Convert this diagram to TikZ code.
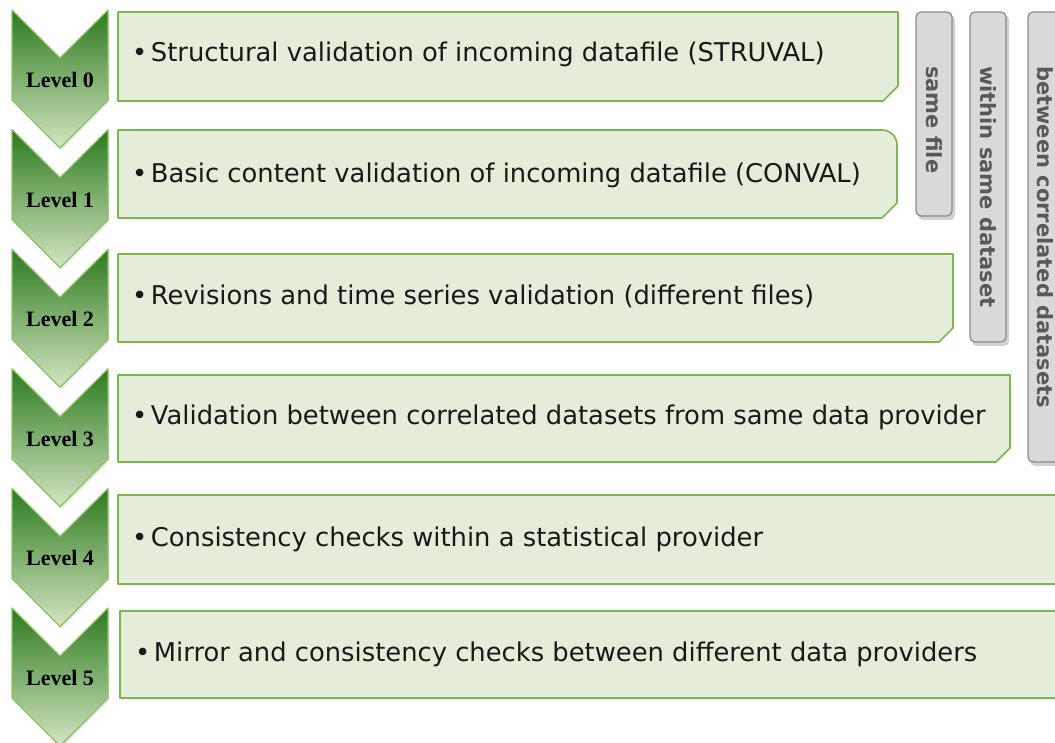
\documentclass[tikz,border=0pt]{standalone}
\usepackage{fontspec}
\setmainfont{DejaVu Sans}
\newfontfamily\lvlfont{Liberation Serif}
\definecolor{boxfill}{HTML}{E4EDD9}
\definecolor{boxline}{HTML}{7DB553}
\definecolor{chevtop}{HTML}{2C7A1E}
\definecolor{chevbot}{HTML}{D4E6C3}
\definecolor{chevline}{HTML}{8EC265}
\definecolor{barfill}{HTML}{D9D9D9}
\definecolor{barline}{HTML}{8A8A8A}
\definecolor{bartext}{HTML}{595959}
\newcommand\bul{•\kern3.5pt}
\tikzset{
  boxshape/.style={fill=boxfill, draw=boxline, line width=1.6pt, line join=round},
  chevshape/.style={top color=chevtop, bottom color=chevbot, draw=chevline, line width=1.2pt, line join=round},
  lvltext/.style={font=\lvlfont\bfseries\fontsize{22}{22}\selectfont, text=black, inner sep=0pt},
  boxtext/.style={font=\fontsize{25.8}{26}\selectfont, text=black!90, anchor=base west, inner sep=0pt},
  barshape/.style={fill=barfill, draw=barline, line width=1.2pt, rounded corners=5pt},
  barshadow/.style={fill=black, opacity=0.18, rounded corners=5pt},
  bartxt/.style={font=\bfseries\fontsize{21}{21}\selectfont, text=bartext, rotate=-90, anchor=west, inner sep=0pt}
}
\begin{document}
\begin{tikzpicture}[x=1pt,y=-1pt]
\useasboundingbox (0,0) rectangle (1055,743);
\fill[white] (0,0) rectangle (1055,743);
% chevrons
\foreach \i/\t in {0/10,1/129.6,2/249.2,3/368.8,4/488.4,5/608}{
  \fill[black,opacity=0.12] (13,\t+2) -- (61,\t+50) -- (109,\t+2) -- (109,\t+92) -- (61,\t+140) -- (13,\t+92) -- cycle;
  \shade[chevshape] (12,\t) -- (60,\t+48) -- (108,\t) -- (108,\t+90) -- (60,\t+138) -- (12,\t+90) -- cycle;
}
\node[lvltext] (l0) at (60,80) {Level 0};
\node[lvltext] (l1) at (60,199.6) {Level 1};
\node[lvltext] (l2) at (60,319.2) {Level 2};
\node[lvltext] (l3) at (60,438.8) {Level 3};
\node[lvltext] (l4) at (60,558.4) {Level 4};
\node[lvltext] (l5) at (60,678) {Level 5};
% boxes
\draw[boxshape] (118,12) -- (898,12) -- (898,86) -- (883,101) -- (118,101) -- cycle;
\draw[boxshape] (118,130) -- (882,130) .. controls (890.3,130) and (897,136.7) .. (897,145) -- (897,203) -- (882,218) -- (118,218) -- cycle;
\draw[boxshape] (118,254) -- (953,254) -- (953,328) -- (939,342) -- (118,342) -- cycle;
\draw[boxshape] (118,375) -- (1010,375) -- (1010,448) -- (996,462) -- (118,462) -- cycle;
\draw[boxshape] (118,495) -- (1058,495) -- (1058,584) -- (118,584) -- cycle;
\draw[boxshape] (120,611) -- (1058,611) -- (1058,698) -- (120,698) -- cycle;
\node[boxtext] (t0) at (132,62) {\bul Structural validation of incoming datafile (STRUVAL)};
\node[boxtext] (t1) at (132,183) {\bul Basic content validation of incoming datafile (CONVAL)};
\node[boxtext] (t2) at (132,305) {\bul Revisions and time series validation (different files)};
\node[boxtext] (t3) at (132,424) {\bul Validation between correlated datasets from same data provider};
\node[boxtext] (t4) at (132,546) {\bul Consistency checks within a statistical provider};
\node[boxtext] (t5) at (135,661) {\bul Mirror and consistency checks between different data providers};
% bars
\fill[barshadow] (918,15) rectangle (955,220);
\fill[barshadow] (972,15) rectangle (1009,346);
\fill[barshadow] (1030,15) rectangle (1067,466);
\draw[barshape] (916,12) rectangle (952,216);
\draw[barshape] (970,12) rectangle (1006,342);
\draw[barshape] (1028,12) rectangle (1064,462);
\node[bartxt] (b0) at (934,66) {same file};
\node[bartxt] (b1) at (988,66) {within same dataset};
\node[bartxt] (b2) at (1045,66) {between correlated datasets};
\end{tikzpicture}
\end{document}
